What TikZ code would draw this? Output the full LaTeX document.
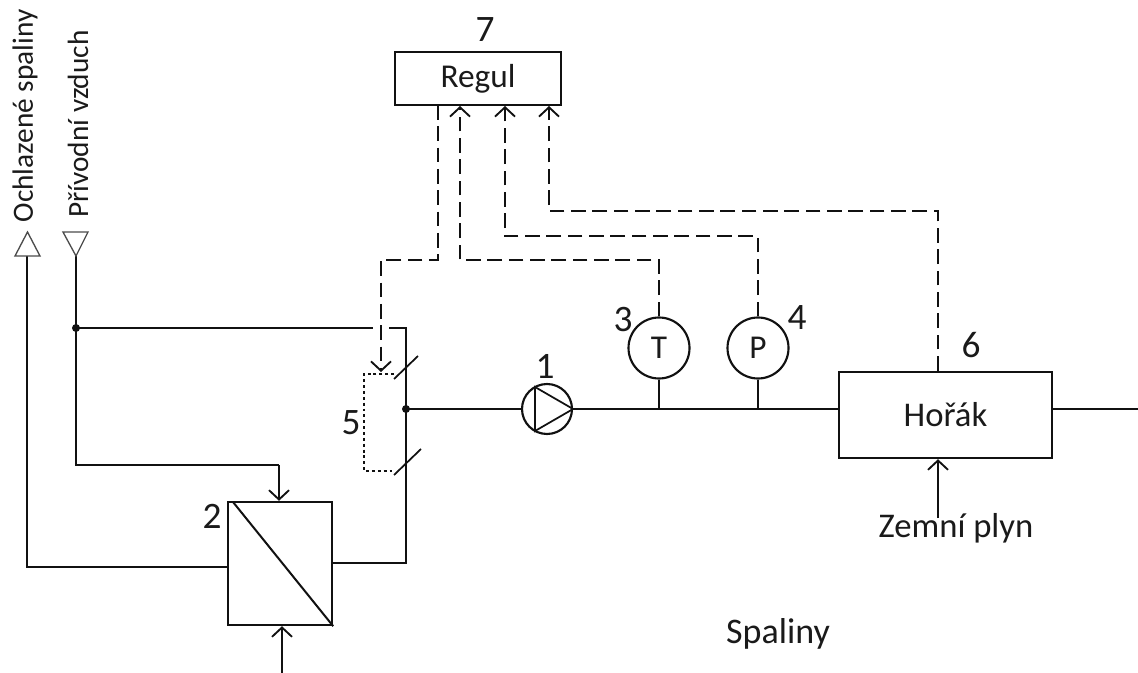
\documentclass[tikz,border=0pt]{standalone}
\usepackage{fontspec}
\setmainfont{Carlito}
\usetikzlibrary{arrows.meta,positioning}
\definecolor{linecol}{HTML}{111111}
\definecolor{textcol}{HTML}{1a1a1a}
\tikzset{
  pipe/.style={draw=linecol, line width=1.8pt},
  signal/.style={draw=linecol, line width=1.5pt, dash pattern=on 11pt off 5pt},
  feed/.style={pipe, -{Straight Barb[length=7pt,width=15pt,line width=1.4pt]}},
  signalfeed/.style={signal, -{Straight Barb[length=7pt,width=15pt,line width=1.4pt]}},
  unitbox/.style={draw=linecol, line width=1.8pt, inner sep=0pt, text=textcol},
  gauge/.style={draw=linecol, line width=1.6pt, circle, minimum size=45.75pt, inner sep=0pt, text=textcol},
  label/.style={text=textcol, font=\fontsize{26}{28}\selectfont, inner sep=0pt},
  numlabel/.style={label, font=\fontsize{28}{30}\selectfont},
  sidelabel/.style={label, rotate=90, font=\fontsize{22}{24}\selectfont},
  junction/.style={circle, fill=linecol, minimum size=6pt, inner sep=0pt},
  vent/.style={draw=linecol!75, line width=1pt, fill=white},
}
\begin{document}
\begin{tikzpicture}[x=0.75pt, y=-0.75pt, font=\fontsize{25}{28}\selectfont]
\useasboundingbox (0,0) rectangle (1138,673);

% --- Units ---
\node[unitbox, minimum width=124.5pt, minimum height=40pt] (regul) at (478,78.5) {Regul};
\node[unitbox, minimum width=159.75pt, minimum height=64.5pt] (burner) at (945.5,415) {\fontsize{26}{28}\selectfont Hořák};
\node[unitbox, minimum width=78pt, minimum height=92.25pt] (exch) at (280,563.5) {};
\node[gauge] (temp) at (659,348) {T};
\node[gauge] (press) at (758,348) {P};
\node[gauge, minimum size=37.5pt] (pump) at (547,409) {};

% Free ends
\coordinate (outlet) at (27,256);
\coordinate (inlet) at (76,256);
\coordinate (airnode) at (76,328);
\coordinate (airdrop) at (279,465);
\coordinate (mixnode) at (406,409);
\coordinate (topcorner) at (406,328);
\coordinate (botcorner) at (406,563);
\coordinate (flue) at (282,673);
\coordinate (gas) at (938,518);
\coordinate (exhaust) at (1138,409);

% --- Process lines ---
\draw[pipe] (exch.west |- 0,567) -- (27,567) -- (outlet);
\draw[pipe] (inlet) -- (airnode);
\draw[pipe] (airnode) -- (76,465) -- (airdrop);
\draw[feed] (airdrop) -- (airdrop |- exch.north);
\draw[pipe] (airnode) -- (373,328);
\draw[pipe] (389,328) -- (topcorner) -- (botcorner) -- (exch.east |- botcorner);
\draw[pipe] (mixnode) -- (pump.west);
\draw[pipe] (pump.east) -- (burner.west |- pump.east);
\draw[pipe] (burner.east |- exhaust) -- (exhaust);
\draw[feed] (flue) -- (flue |- exch.south);
\draw[feed] (gas) -- (gas |- burner.south);
\draw[pipe] (temp.south) -- (temp.south |- pump.east);
\draw[pipe] (press.south) -- (press.south |- pump.east);
\node[junction] (airdot) at (airnode) {};
\node[junction] (mixdot) at (mixnode) {};

% Vent triangles
\draw[vent] (15,256) -- (27.5,232) -- (40,256) -- cycle;
\draw[vent] (inlet) -- (63,232) -- (88,232) -- cycle;

% Exchanger diagonal
\draw[pipe, line width=1.5pt] (233,502) -- (exch.south east);

% Pump triangle
\draw[pipe, line width=1.3pt] (535,387) -- (535,431) -- (pump.east) -- cycle;

% --- Damper ---
\draw[pipe, line width=1.3pt] (394,379) -- (418,356);
\draw[pipe, line width=1.3pt] (394,475) -- (421,449);
\draw[draw=linecol, line width=1.2pt, dash pattern=on 2.2pt off 2.2pt] (394,374) -- (364,374) -- (364,471) -- (394,471);

% --- Signal lines ---
\draw[signalfeed] (438,105) -- (438,260) -- (381,260) -- (381,372);
\draw[signalfeed] (temp.north) -- (659,260) -- (460,260) -- (460,106);
\draw[signalfeed] (press.north) -- (758,236) -- (505,236) -- (505,106);
\draw[signalfeed] (gas |- burner.north) -- (938,211) -- (549,211) -- (549,106);

% --- Labels ---
\foreach \num/\px/\py in {1/545/366, 2/212/516, 3/623/320, 4/797/318, 5/351/423, 6/971/345, 7/485/30} {
  \node[numlabel] (num\num) at (\px,\py) {\num};
}
\node[label] (gaslabel) at (956,528) {Zemní plyn};
\node[label, font=\fontsize{27}{29}\selectfont] (fluelabel) at (778,634) {Spaliny};
\node[sidelabel] (outletlabel) at (25,116) {Ochlazené spaliny};
\node[sidelabel] (inletlabel) at (78,124) {Přívodní vzduch};

\end{tikzpicture}
\end{document}
